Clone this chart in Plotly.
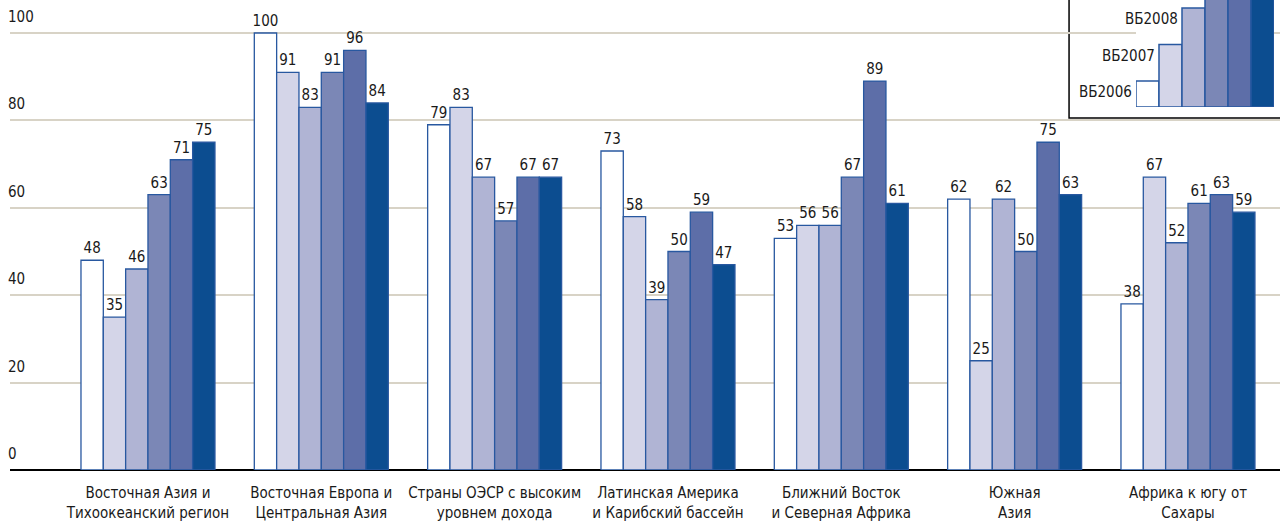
import plotly.graph_objects as go

categories = [
    "Восточная Азия и<br>Тихоокеанский регион",
    "Восточная Европа и<br>Центральная Азия",
    "Страны ОЭСР с высоким<br>уровнем дохода",
    "Латинская Америка<br>и Карибский бассейн",
    "Ближний Восток<br>и Северная Африка",
    "Южная<br>Азия",
    "Африка к югу от<br>Сахары",
]
series_names = ["ВБ2006", "ВБ2007", "ВБ2008", "ВБ2009", "ВБ2010", "ВБ2011"]
vb2006 = [48, 100, 79, 73, 53, 62, 38]
vb2007 = [35, 91, 83, 58, 56, 25, 67]
vb2008 = [46, 83, 67, 39, 56, 62, 52]
vb2009 = [63, 91, 57, 50, 67, 50, 61]
vb2010 = [71, 96, 67, 59, 89, 75, 63]
vb2011 = [75, 84, 67, 47, 61, 63, 59]
series_values = [vb2006, vb2007, vb2008, vb2009, vb2010, vb2011]
y_ticks = [0, 20, 40, 60, 80, 100]
legend_steps = [0.71, 1.71, 2.71, 3.71, 4.71, 5.71]

colors = ["#ffffff", "#d4d5e8", "#b0b4d4", "#7b87b6", "#5d6ea8", "#0c4d90"]
edge = "#2858a0"
FONT = "Liberation Sans Narrow, DejaVu Sans Condensed, Open Sans, sans-serif"

fig = go.Figure()
for name, vals, col in zip(series_names, series_values, colors):
    fig.add_trace(go.Bar(
        x=categories, y=vals, name=name,
        marker=dict(color=col, line=dict(color=edge, width=1.3)),
        text=[str(v) for v in vals], textposition="outside",
        textfont=dict(size=15, color="#1a1a1a", family=FONT),
        constraintext="none",
        cliponaxis=False, showlegend=False,
    ))

# inset legend (staircase)
fig.add_trace(go.Bar(
    x=list(range(len(series_names))), y=legend_steps, width=[1] * len(series_names),
    marker=dict(color=colors, line=dict(color=edge, width=1.5)),
    xaxis="x2", yaxis="y2", showlegend=False, hoverinfo="skip",
))

annotations = []
for t in y_ticks:
    annotations.append(dict(
        x=0, xref="paper", y=t, yref="y", text=str(t), showarrow=False,
        xanchor="left", yanchor="bottom", xshift=-4, yshift=5,
        font=dict(size=15, color="#1a1a1a", family=FONT),
    ))
for i, (name, h) in enumerate(zip(series_names, legend_steps)):
    annotations.append(dict(
        x=i - 0.5, xref="x2", y=h, yref="y2", text=name, showarrow=False,
        xanchor="right", yanchor="top", xshift=-2, yshift=0,
        font=dict(size=15, color="#1a1a1a", family=FONT),
    ))

fig.update_layout(
    width=1280, height=523,
    margin=dict(l=10, r=0, t=0, b=53),
    paper_bgcolor="white", plot_bgcolor="white",
    barmode="group", bargap=0.227, bargroupgap=0,
    font=dict(family=FONT, size=15, color="#1a1a1a"),
    xaxis=dict(
        range=[-0.796, 6.531], showgrid=False, showline=False, ticks="",
        tickfont=dict(size=15, color="#1a1a1a", family=FONT), fixedrange=True,
        ticklabelstandoff=12, automargin=False,
    ),
    yaxis=dict(
        range=[0, 107.55], tickvals=y_ticks, showticklabels=False,
        showgrid=True, gridcolor="#d8d3c6", gridwidth=1.5,
        zeroline=True, zerolinecolor="#000000", zerolinewidth=1.6,
        showline=False, ticks="", automargin=False, fixedrange=True,
    ),
    xaxis2=dict(domain=[0.8866, 0.9953], anchor="y2", range=[-0.5, 5.5],
                visible=False, fixedrange=True),
    yaxis2=dict(domain=[0.7723, 1.0], anchor="x2", range=[0, 2.93],
                visible=False, fixedrange=True),
    shapes=[dict(
        type="rect", xref="paper", yref="paper",
        x0=0.8339, y0=0.749, x1=1.05, y1=1.2,
        fillcolor="white", line=dict(color="black", width=1.5), layer="between",
    )],
    annotations=annotations,
)

fig.write_html(
    "out.html",
    config={"displayModeBar": False},
    post_script="document.body.style.margin='0';document.body.style.overflow='hidden';",
)
